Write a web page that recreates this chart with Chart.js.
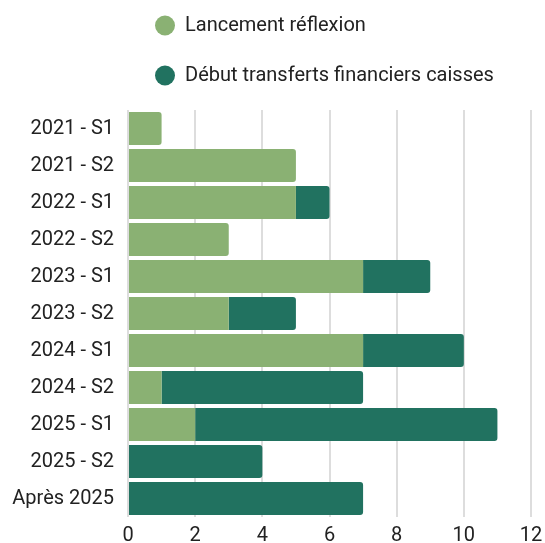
<!DOCTYPE html>
<html><head><meta charset="utf-8">
<script src="https://cdn.jsdelivr.net/npm/chart.js@4.4.1/dist/chart.umd.min.js"></script>
<style>html,body{margin:0;padding:0;background:#fff;}#wrap{width:545px;height:543px;position:relative;}</style>
</head><body><div id="wrap"><canvas id="c"></canvas></div>
<script>
const categories = ['2021 - S1','2021 - S2','2022 - S1','2022 - S2','2023 - S1','2023 - S2','2024 - S1','2024 - S2','2025 - S1','2025 - S2','Après 2025'];
const seriesNames = ['Lancement réflexion','Début transferts financiers caisses'];
const lancementReflexion = [1,5,5,3,7,3,7,1,2,0,0];
const debutTransferts = [0,0,1,0,2,2,3,6,9,4,7];
const xTicks = [0,2,4,6,8,10,12];
const seriesColors = ['#8AB173','#217260'];

const FONT = "Roboto, 'Noto Sans', sans-serif";
const TEXT = '#222222';

const legendShift = {
  id: 'legendShift',
  beforeDraw(chart) {
    const lg = chart.legend;
    if (!lg) return;
    lg.left = 125;
    lg.top = -14.5;
  }
};

new Chart(document.getElementById('c'), {
  type: 'bar',
  data: {
    labels: categories,
    datasets: [
      { label: seriesNames[0], data: lancementReflexion, backgroundColor: seriesColors[0], borderRadius: 3, categoryPercentage: 1, barPercentage: 0.89 },
      { label: seriesNames[1], data: debutTransferts, backgroundColor: seriesColors[1], borderRadius: 3, categoryPercentage: 1, barPercentage: 0.89 }
    ]
  },
  options: {
    indexAxis: 'y',
    responsive: true,
    maintainAspectRatio: false,
    animation: false,
    layout: { padding: { left: 0, right: 14, top: 0, bottom: 0 } },
    plugins: {
      tooltip: { enabled: false },
      legend: {
        display: true,
        position: 'top',
        align: 'start',
        fullSize: false,
        labels: {
          usePointStyle: true,
          pointStyle: 'circle',
          pointStyleWidth: 20,
          boxHeight: 14.142,
          padding: 30,
          color: TEXT,
          font: { family: FONT, size: 20 }
        }
      }
    },
    scales: {
      x: {
        stacked: true,
        min: xTicks[0],
        max: xTicks[xTicks.length - 1],
        afterBuildTicks: s => { s.ticks = xTicks.map(v => ({ value: v })); },
        afterFit: s => { s.height = 24; s.paddingRight = 0; s.paddingLeft = 0; },
        grid: { color: '#dddddd', lineWidth: 2, drawTicks: false },
        border: { display: false },
        ticks: { color: TEXT, font: { family: FONT, size: 20 }, padding: 7 }
      },
      y: {
        stacked: true,
        grid: { display: false, drawTicks: false },
        border: { display: false },
        ticks: { color: TEXT, font: { family: FONT, size: 20 }, padding: 14 },
        afterFit: s => { s.width = 128; }
      }
    }
  },
  plugins: [legendShift]
});
</script>
</body></html>
